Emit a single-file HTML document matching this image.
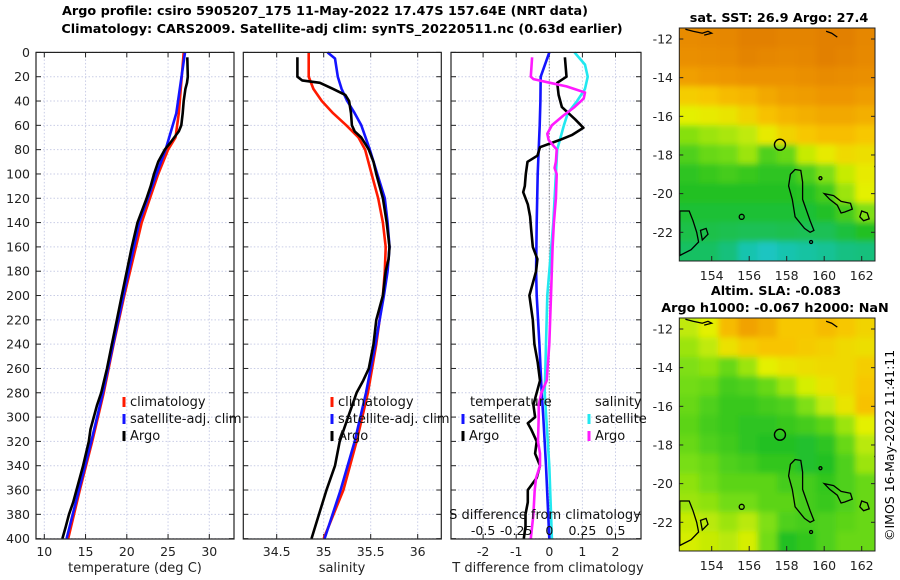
<!DOCTYPE html>
<html><head><meta charset="utf-8"><style>
html,body{margin:0;padding:0;background:#fff;}
svg{display:block;font-family:"DejaVu Sans","Liberation Sans",sans-serif;}
</style></head><body>
<svg id="chart" width="900" height="580" viewBox="0 0 900 580">
<defs>
<clipPath id="cTop"><rect x="679.3" y="28" width="195.7" height="233"/></clipPath>
<clipPath id="cBot"><rect x="679.3" y="318" width="195.7" height="233"/></clipPath>
<filter id="bl" x="-5%" y="-5%" width="110%" height="110%"><feGaussianBlur stdDeviation="3"/></filter>
</defs>
<text x="325" y="15" text-anchor="middle" font-size="12.8" font-weight="bold">Argo profile: csiro 5905207_175 11-May-2022 17.47S 157.64E (NRT data)</text>
<text x="342" y="33" text-anchor="middle" font-size="12.8" font-weight="bold">Climatology: CARS2009. Satellite-adj clim: synTS_20220511.nc (0.63d earlier)</text>
<text x="779" y="22" text-anchor="middle" font-size="12.8" font-weight="bold">sat. SST: 26.9 Argo: 27.4</text>
<text x="776" y="295" text-anchor="middle" font-size="12.8" font-weight="bold">Altim. SLA: -0.083</text>
<text x="775" y="312" text-anchor="middle" font-size="12.8" font-weight="bold">Argo h1000: -0.067 h2000: NaN</text>
<text transform="translate(894,541) rotate(-90)" font-size="12.5">©IMOS 16-May-2022 11:41:11</text>
<g id="g"></g>
</svg>
<script>
// ---------- data ----------
const depthTicks=[0,20,40,60,80,100,120,140,160,180,200,220,240,260,280,300,320,340,360,380,400];
const tTicks=[10,15,20,25,30];
const sTicks=[34.5,35,35.5,36];
const dTTicks=[-2,-1,0,1,2];
const dSTickLabels=["-0.5","-0.25","0","0.25","0.5"];
const dSTicks=[-0.5,-0.25,0,0.25,0.5];

const argoTDepth=[4,20,25,30,40,50,60,65,70,75,80,90,100,110,120,140,160,180,200,220,240,260,280,290,300,310,320,340,360,370,380,390,400];
const argoT=[27.33,27.4,27.3,27.1,26.9,26.77,26.6,26.3,25.75,25.2,24.6,23.8,23.3,22.9,22.4,21.3,20.6,20.0,19.4,18.8,18.2,17.6,16.9,16.4,16.0,15.6,15.4,14.7,13.9,13.5,13.0,12.6,12.2];
const climDepth=[0,50,70,80,100,120,140,160,200,240,280,320,360,400];
const climT=[26.9,26.3,25.9,25.0,23.8,22.8,21.8,21.1,19.7,18.4,17.2,15.8,14.3,12.9];
const satTDepth=[0,50,80,100,140,200,280,320,360,400];
const satT=[27.05,26.0,24.7,23.6,21.5,19.6,17.1,15.7,14.2,12.7];

const argoSDepth=[4,20,23,25,30,35,40,50,60,65,70,80,90,100,120,140,160,170,180,200,220,240,260,270,280,300,320,340,360,380,400];
const argoS=[34.72,34.72,34.77,34.96,35.10,35.23,35.27,35.29,35.30,35.33,35.40,35.48,35.53,35.56,35.63,35.67,35.70,35.69,35.66,35.63,35.56,35.53,35.48,35.42,35.35,35.26,35.17,35.12,35.03,34.95,34.87];
const climSDepth=[0,20,30,40,50,60,70,80,100,120,140,160,180,200,240,280,320,360,400];
const climS=[34.84,34.84,34.89,34.98,35.10,35.24,35.37,35.44,35.51,35.58,35.63,35.66,35.65,35.63,35.56,35.47,35.35,35.21,35.0];
const satSDepth=[0,5,20,30,40,50,60,80,100,120,140,160,180,200,240,280,320,360,400];
const satS=[35.04,35.12,35.15,35.19,35.25,35.33,35.40,35.49,35.57,35.65,35.68,35.70,35.68,35.64,35.55,35.45,35.33,35.18,35.01];

const satDTDepth=[0,20,40,60,80,100,140,180,200,240,280,300,340,400];
const satDT=[0.0,-0.26,-0.27,-0.29,-0.32,-0.35,-0.38,-0.40,-0.38,-0.30,-0.23,-0.18,-0.10,0.0];
const argoDTDepth=[4,20,25,35,45,55,62,68,72,78,85,90,100,110,115,125,135,145,160,170,180,200,220,240,255,270,280,290,300,305,310,320,330,340,350,360,370,380,390,400];
const argoDT=[0.47,0.52,0.24,0.28,0.38,0.78,1.03,0.68,0.32,-0.28,-0.36,-0.66,-0.71,-0.74,-0.79,-0.65,-0.58,-0.55,-0.50,-0.36,-0.40,-0.60,-0.50,-0.45,-0.35,-0.28,-0.38,-0.48,-0.43,-0.65,-0.55,-0.38,-0.43,-0.28,-0.38,-0.65,-0.65,-0.72,-0.72,-0.77];
const satDSDepth=[0,10,20,30,40,50,60,80,100,140,200,280,340,400];
const satDS=[0.19,0.27,0.29,0.27,0.21,0.14,0.11,0.06,0.05,0.03,-0.015,-0.035,0.0,0.02];
const argoDSDepth=[4,20,22,25,28,33,38,45,52,60,67,72,80,90,95,100,120,140,160,200,240,270,280,290,300,320,330,340,350,360,380,400];
const argoDS=[-0.13,-0.14,-0.12,0.005,0.13,0.27,0.26,0.19,0.106,0.02,-0.015,-0.005,0.056,0.05,0.04,0.056,0.05,0.035,0.025,0.013,0.0,-0.02,-0.06,-0.08,-0.08,-0.085,-0.07,-0.07,-0.1,-0.11,-0.12,-0.14];

const lonTicks=[154,156,158,160,162];
const latTicks=[-12,-14,-16,-18,-20,-22];
const sstGrid=[
[.95,.96,.97,1,1,.98,.98,1,1,.97],
[.93,.94,.95,.98,.97,.96,.97,1,.98,.96],
[.87,.89,.9,.92,.92,.92,.93,.95,.94,.93],
[.72,.74,.78,.8,.84,.87,.88,.9,.9,.88],
[.6,.62,.64,.7,.76,.8,.82,.84,.84,.82],
[.47,.5,.52,.55,.62,.7,.74,.77,.77,.74],
[.38,.42,.44,.5,.38,.42,.56,.62,.68,.66],
[.32,.34,.36,.34,.32,.32,.38,.46,.56,.62],
[.3,.3,.3,.3,.3,.3,.31,.36,.5,.6],
[.27,.27,.27,.27,.27,.27,.27,.29,.36,.46],
[.24,.24,.23,.22,.22,.23,.22,.22,.26,.3],
[.2,.2,.16,.08,.05,.08,.1,.12,.15,.16]];
const slaGrid=[
[.55,.6,.78,.86,.82,.74,.74,.78,.74,.7],
[.5,.55,.65,.72,.75,.75,.73,.71,.68,.66],
[.46,.48,.42,.5,.6,.64,.66,.68,.68,.72],
[.44,.42,.36,.38,.42,.5,.58,.64,.68,.74],
[.42,.38,.34,.34,.36,.38,.46,.55,.64,.76],
[.4,.36,.34,.32,.32,.34,.36,.4,.5,.6],
[.42,.38,.35,.32,.3,.3,.28,.32,.42,.54],
[.45,.42,.38,.36,.33,.33,.28,.3,.38,.5],
[.48,.44,.4,.4,.4,.36,.36,.33,.38,.42],
[.5,.48,.44,.44,.4,.4,.36,.34,.38,.42],
[.56,.54,.5,.54,.46,.38,.36,.38,.4,.42],
[.58,.56,.54,.58,.44,.3,.33,.38,.42,.42]];

// ---------- helpers ----------
const NS="http://www.w3.org/2000/svg";
const G=document.getElementById('g');
function mk(tag,attrs,parent){const e=document.createElementNS(NS,tag);for(const k in attrs)e.setAttribute(k,attrs[k]);(parent||G).appendChild(e);return e;}
const yD=d=>52.4+d*1.2156;
const xTemp=t=>44.3+(t-10)*8.25;
const xSal=s=>276.7+(s-34.5)*94;
const xDT=v=>549.3+v*33.1;
const xDS=v=>549.3+v*132.4;
const panels=[{x0:36,x1:234},{x0:243.3,x1:441.3},{x0:451,x1:641}];

function panelFrame(p,xt,xf,labels,name){
  xt.forEach(v=>{const l=mk('line',{x1:xf(v),x2:xf(v),y1:52.4,y2:539,stroke:'#c9cde6','stroke-dasharray':'1.5,2','stroke-width':1});
    });
  depthTicks.forEach(d=>{const l=mk('line',{x1:p.x0,x2:p.x1,y1:yD(d),y2:yD(d),stroke:'#c9cde6','stroke-dasharray':'1.5,2','stroke-width':1});
    
    mk('line',{x1:p.x0,x2:p.x0+5,y1:yD(d),y2:yD(d),stroke:'#222'});
    mk('line',{x1:p.x1-5,x2:p.x1,y1:yD(d),y2:yD(d),stroke:'#222'});});
  xt.forEach((v,i)=>{
    mk('line',{x1:xf(v),x2:xf(v),y1:539-5,y2:539,stroke:'#222'});
    mk('line',{x1:xf(v),x2:xf(v),y1:52.4,y2:57.4,stroke:'#222'});
    const t=mk('text',{x:xf(v),y:556,'text-anchor':'middle','font-size':12.5,fill:'#222'});t.textContent=labels[i];
    });
}
function frameRect(p,name){const r=mk('rect',{x:p.x0,y:52.4,width:p.x1-p.x0,height:539-52.4,fill:'none',stroke:'#222','stroke-width':1.2});
  }
function series(xs,ds,xf,color,name,w){
  const pts=xs.map((v,i)=>xf(v).toFixed(1)+','+yD(ds[i]).toFixed(1)).join(' ');
  const l=mk('polyline',{points:pts,fill:'none',stroke:color,'stroke-width':w||2.6,'stroke-linejoin':'round'});
  }
function legend(x,y,color,label,name){
  mk('line',{x1:x,x2:x,y1:y-9,y2:y+1,stroke:color,'stroke-width':3});
  const t=mk('text',{x:x+6,y:y,'font-size':13,fill:'#111'});t.textContent=label;
  }

// Panel 1
panelFrame(panels[0],tTicks,xTemp,tTicks.map(String),'temp-panel');
depthTicks.forEach(d=>{const t=mk('text',{x:30,y:yD(d)+4.5,'text-anchor':'end','font-size':12.5,fill:'#222'});t.textContent=d;
  });
series(climT,climDepth,xTemp,'#ff1a00','temp-climatology-line');
series(satT,satTDepth,xTemp,'#1414ff','temp-satellite-line');
series(argoT,argoTDepth,xTemp,'#000','temp-argo-line');
frameRect(panels[0],'temp-panel');
legend(124,406,'#ff1a00','climatology','temp-legend-climatology');
legend(124,423,'#1414ff','satellite-adj. clim','temp-legend-satellite');
legend(124,440,'#000','Argo','temp-legend-argo');
let t=mk('text',{x:135,y:572,'text-anchor':'middle','font-size':13,fill:'#222'});t.textContent='temperature (deg C)';


// Panel 2
panelFrame(panels[1],sTicks,xSal,sTicks.map(String),'sal-panel');
series(climS,climSDepth,xSal,'#ff1a00','sal-climatology-line');
series(satS,satSDepth,xSal,'#1414ff','sal-satellite-line');
series(argoS,argoSDepth,xSal,'#000','sal-argo-line');
frameRect(panels[1],'sal-panel');
legend(332,406,'#ff1a00','climatology','sal-legend-climatology');
legend(332,423,'#1414ff','satellite-adj. clim','sal-legend-satellite');
legend(332,440,'#000','Argo','sal-legend-argo');
t=mk('text',{x:342,y:572,'text-anchor':'middle','font-size':13,fill:'#222'});t.textContent='salinity';


// Panel 3
panelFrame(panels[2],dTTicks,xDT,dTTicks.map(String),'diff-panel');
mk('line',{x1:xDT(0),x2:xDT(0),y1:52.4,y2:539,stroke:'#555','stroke-dasharray':'1,2','stroke-width':1});
series(satDS,satDSDepth,xDS,'#22e8f0','sdiff-satellite-line');
series(satDT,satDTDepth,xDT,'#1414ff','tdiff-satellite-line');
series(argoDT,argoDTDepth,xDT,'#000','tdiff-argo-line');
series(argoDS,argoDSDepth,xDS,'#ff1aff','sdiff-argo-line');
frameRect(panels[2],'diff-panel');
t=mk('text',{x:470,y:406,'font-size':13,fill:'#111'});t.textContent='temperature';

t=mk('text',{x:595,y:406,'font-size':13,fill:'#111'});t.textContent='salinity';

legend(463,423,'#1414ff','satellite','tdiff-legend-satellite');
legend(463,440,'#000','Argo','tdiff-legend-argo');
legend(589,423,'#22e8f0','satellite','sdiff-legend-satellite');
legend(589,440,'#ff1aff','Argo','sdiff-legend-argo');
t=mk('text',{x:545,y:519,'text-anchor':'middle','font-size':13,fill:'#111'});t.textContent='S difference from climatology';

dSTicks.forEach((v,i)=>{const e=mk('text',{x:xDS(v),y:535,'text-anchor':'middle','font-size':12.5,fill:'#111'});e.textContent=dSTickLabels[i];
  });
t=mk('text',{x:548,y:572,'text-anchor':'middle','font-size':13,fill:'#222'});t.textContent='T difference from climatology';


// ---------- maps ----------
const cmapStops=[[0,[30,200,225]],[0.15,[20,192,130]],[0.3,[34,192,34]],[0.45,[120,222,20]],[0.6,[228,240,0]],[0.75,[248,196,0]],[0.9,[238,150,0]],[1,[226,128,0]]];
function cmap(v){for(let i=1;i<cmapStops.length;i++){if(v<=cmapStops[i][0]){const a=cmapStops[i-1],b=cmapStops[i];const f=(v-a[0])/(b[0]-a[0]);
  const c=a[1].map((x,k)=>Math.round(x+(b[1][k]-x)*f));return 'rgb('+c.join(',')+')';}}return 'rgb(226,128,0)';}
const mx0=679.3,mx1=875;
const lonX=lon=>711.7+(lon-154)*18.75;
function drawMap(grid,top,clip,name){
  const latY=lat=>top+11+(-12-lat)*19.33;
  const bg=mk('g',{'clip-path':'url(#'+clip+')'});
  
  const inner=mk('g',{filter:'url(#bl)'},bg);
  const rows=grid.length,cols=grid[0].length,cw=(mx1-mx0)/cols,rh=233/rows;
  grid.forEach((row,r)=>row.forEach((v,c)=>{
    const cell=mk('rect',{x:mx0+c*cw-6*(c==0),y:top+r*rh-6*(r==0),width:cw+0.6+6*(c==0)+6*(c==cols-1),height:rh+0.6+6*(r==0)+6*(r==rows-1),fill:cmap(v)},inner);
    }));
  const cg=mk('g',{'clip-path':'url(#'+clip+')',fill:'none',stroke:'#000','stroke-width':1.3});
  
  const P=(arr)=>arr.map(p=>lonX(p[0]).toFixed(1)+','+latY(p[1]).toFixed(1)).join(' ');
  mk('polygon',{points:P([[158.45,-18.75],[158.75,-18.8],[158.85,-19.4],[158.85,-20.3],[159.25,-21.4],[159.45,-21.9],[159.25,-22.0],[158.95,-21.8],[158.45,-21.2],[158.3,-20.3],[158.1,-19.6],[158.2,-19.0]])},cg);
  mk('polygon',{points:P([[160.0,-20.0],[160.5,-20.1],[160.9,-20.4],[161.4,-20.5],[161.5,-20.8],[161.1,-20.95],[160.9,-21.0],[160.7,-20.6],[160.3,-20.3]])},cg);
  mk('polygon',{points:P([[162.0,-20.9],[162.3,-21.0],[162.4,-21.3],[162.1,-21.4],[161.9,-21.2]])},cg);
  mk('polygon',{points:P([[152.3,-20.9],[152.8,-20.9],[153.0,-21.4],[153.2,-22.0],[153.3,-22.5],[152.9,-22.9],[152.3,-23.2]])},cg);
  mk('polygon',{points:P([[153.4,-21.9],[153.7,-21.8],[153.8,-22.1],[153.5,-22.4]])},cg);
  mk('polyline',{points:P([[152.6,-11.5],[153.0,-11.6],[153.5,-11.7],[153.8,-11.6],[154.0,-11.7],[153.6,-11.8]])},cg);
  mk('polyline',{points:P([[160.1,-11.6],[160.4,-11.7],[160.7,-11.9]])},cg);
  mk('polygon',{points:P([[163.0,-17.9],[162.8,-18.3],[162.7,-18.6],[162.9,-19.0],[163.0,-19.0]])},cg);
  mk('circle',{cx:lonX(155.6),cy:latY(-21.2),r:2.5},cg);
  mk('circle',{cx:lonX(159.8),cy:latY(-19.2),r:1.5},cg);
  mk('circle',{cx:lonX(159.3),cy:latY(-22.5),r:1.5},cg);
  const m=mk('circle',{cx:lonX(157.64),cy:latY(-17.47),r:5.5,fill:'none',stroke:'#000','stroke-width':1.4});
  
  const fr=mk('rect',{x:mx0,y:top,width:mx1-mx0,height:233,fill:'none',stroke:'#222','stroke-width':1});
  
  lonTicks.forEach(l=>{mk('line',{x1:lonX(l),x2:lonX(l),y1:top+233,y2:top+228,stroke:'#222'});
    const e=mk('text',{x:lonX(l),y:top+252,'text-anchor':'middle','font-size':12.5,fill:'#222'});e.textContent=l;
    });
  latTicks.forEach(l=>{mk('line',{x1:mx0,x2:mx0+4,y1:latY(l),y2:latY(l),stroke:'#222'});
    mk('line',{x1:mx1-4,x2:mx1,y1:latY(l),y2:latY(l),stroke:'#222'});
    const e=mk('text',{x:673,y:latY(l)+4.5,'text-anchor':'end','font-size':12.5,fill:'#222'});e.textContent=l;
    });
}
drawMap(sstGrid,28,'cTop','sst-map');
drawMap(slaGrid,318,'cBot','sla-map');
</script>
</body></html>
